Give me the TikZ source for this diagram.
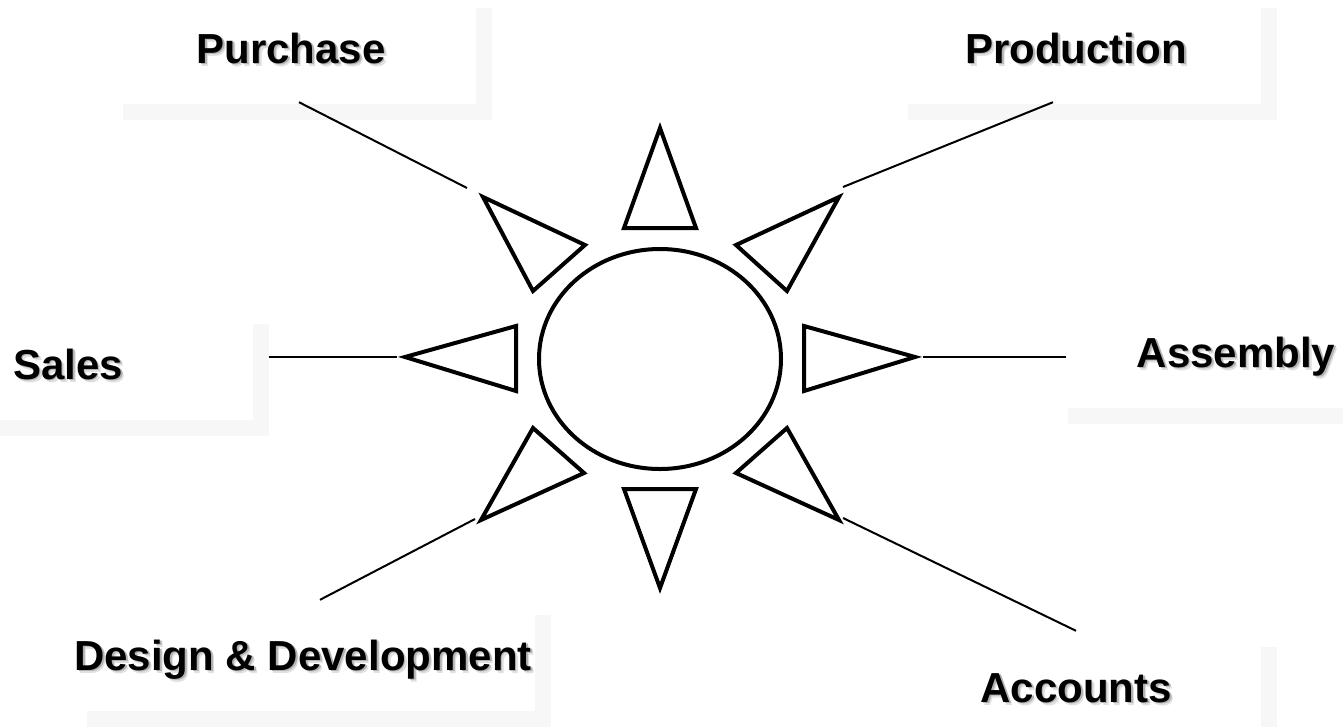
\documentclass[tikz,border=0pt]{standalone}
\usepackage{fontspec}
\setmainfont{Liberation Sans}
\usetikzlibrary{shadows, shapes.geometric}
\definecolor{boxshade}{RGB}{247,247,247}
\colorlet{textshade}{black!30}
\colorlet{textshadelight}{black!12}
\newcommand{\shadetext}[1]{%
  \makebox[0pt][l]{\hspace{3pt}\raisebox{-3pt}{\textcolor{textshadelight}{#1}}}%
  \makebox[0pt][l]{\hspace{1.8pt}\raisebox{-1.8pt}{\textcolor{textshade}{#1}}}#1}

\begin{document}
\begin{tikzpicture}[x=1pt, y=-1pt,
    dept/.style={fill=white, minimum width=369pt, minimum height=112pt, inner sep=0pt,
      text height=30pt, text depth=0pt, font=\fontsize{42}{50}\selectfont\bfseries,
      drop shadow={shadow xshift=16pt, shadow yshift=-16pt, fill=boxshade, opacity=1}},
    ray/.style={draw, line width=4pt, line join=miter},
    link/.style={line width=2pt}]
        \useasboundingbox (0,0) rectangle (1343,726);
        % department labels
        \node[dept] (purchase) at (291,48) {\shadetext{Purchase}};
        \node[dept] (production) at (1076,48) {\shadetext{Production}};
        \node[dept] (sales) at (68,364) {\shadetext{Sales}};
        \node[dept] (assembly) at (1236,352) {\shadetext{Assembly}};
        \node[dept, minimum width=464pt] (design) at (303,655) {\shadetext{Design \& Development}};
        \node[dept] (accounts) at (1076,687) {\shadetext{Accounts}};
        % sun
        \node[ray, ellipse, minimum width=242pt, minimum height=220pt] (hub) at (660,359) {};
        \foreach \p/\q/\r in {{660,128}/{624,228}/{696,228},
                              {624,489}/{696,489}/{660,588},
                              {516,326}/{516,391}/{405,357},
                              {804,326}/{804,391}/{915,357},
                              {483,197}/{585,245}/{533,291},
                              {839,197}/{736,245}/{787,291},
                              {533,428}/{584,473}/{481,520},
                              {787,428}/{736,473}/{839,520}} {
          \draw[ray] (\p) -- (\q) -- (\r) -- cycle;
        }
        % links
        \coordinate (purchase-end) at (467,188);
        \coordinate (production-end) at (843,187);
        \coordinate (sales-end) at (397,357);
        \coordinate (assembly-end) at (923,357);
        \coordinate (design-end) at (475,519);
        \coordinate (accounts-end) at (843,518);
        \draw[link] (purchase.south) ++(8,-2) coordinate (purchase-in) -- (purchase-end);
        \draw[link] (production.south) ++(-23,-2) coordinate (production-in) -- (production-end);
        \draw[link] (sales.east) ++(16,-7) coordinate (sales-in) -- (sales-end);
        \draw[link] (assembly.west) ++(15,5) coordinate (assembly-in) -- (assembly-end);
        \draw[link] (design.north) ++(17,1) coordinate (design-in) -- (design-end);
        \draw[link] (accounts.north) coordinate (accounts-in) -- (accounts-end);
      \end{tikzpicture}
\end{document}
